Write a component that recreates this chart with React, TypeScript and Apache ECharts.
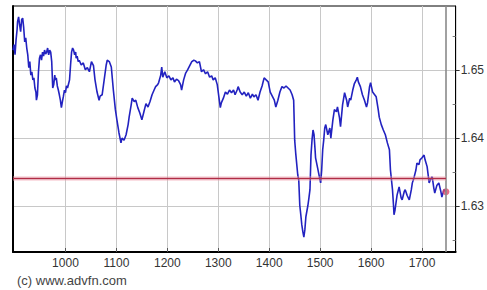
import React, { useEffect, useRef } from "react";
import * as echarts from "echarts";

const days = [
  897, 899, 901, 903, 905, 906, 908, 910, 912, 914, 916, 918, 920, 922, 924, 926, 928, 930, 932, 934,
  936, 938, 940, 942, 943, 945, 947, 949, 951, 953, 955, 957, 959, 961, 963, 965, 967, 969, 971, 973,
  975, 977, 979, 980, 982, 984, 986, 988, 990, 992, 994, 996, 998, 1000, 1002, 1004, 1006, 1008, 1010, 1012,
  1014, 1016, 1018, 1020, 1021, 1023, 1025, 1027, 1031, 1035, 1039, 1043, 1047, 1051, 1055, 1058, 1062, 1066, 1068, 1072,
  1076, 1080, 1082, 1086, 1090, 1094, 1098, 1101, 1105, 1109, 1111, 1115, 1119, 1123, 1125, 1129, 1131, 1135, 1138, 1142,
  1146, 1150, 1154, 1158, 1162, 1166, 1170, 1174, 1177, 1181, 1183, 1187, 1189, 1191, 1195, 1199, 1203, 1207, 1211, 1214,
  1218, 1222, 1226, 1228, 1232, 1236, 1240, 1244, 1248, 1252, 1255, 1259, 1263, 1267, 1271, 1275, 1279, 1283, 1287, 1290,
  1294, 1298, 1302, 1304, 1306, 1310, 1314, 1318, 1322, 1326, 1330, 1333, 1337, 1339, 1343, 1347, 1351, 1355, 1359, 1363,
  1367, 1370, 1374, 1378, 1382, 1386, 1390, 1394, 1398, 1402, 1406, 1410, 1413, 1417, 1421, 1425, 1429, 1433, 1437, 1441,
  1445, 1448, 1450, 1452, 1456, 1458, 1460, 1462, 1464, 1466, 1468, 1470, 1472, 1476, 1478, 1480, 1482, 1484, 1486, 1488,
  1490, 1491, 1495, 1499, 1501, 1503, 1505, 1507, 1509, 1511, 1515, 1519, 1521, 1525, 1528, 1532, 1534, 1538, 1540, 1544,
  1548, 1552, 1554, 1558, 1560, 1564, 1567, 1571, 1573, 1575, 1579, 1583, 1587, 1591, 1593, 1597, 1599, 1603, 1607, 1610,
  1614, 1616, 1620, 1624, 1628, 1632, 1636, 1638, 1642, 1644, 1645, 1647, 1651, 1655, 1659, 1661, 1665, 1667, 1671, 1675,
  1679, 1681, 1684, 1688, 1690, 1694, 1696, 1700, 1704, 1706, 1710, 1714, 1716, 1720, 1723, 1725, 1729, 1733, 1737, 1739,
  1743, 1747,
];

const prices = [
  1.6530, 1.6538, 1.6523, 1.6545, 1.6560, 1.6572, 1.6579, 1.6567, 1.6557, 1.6575, 1.6577, 1.6563, 1.6542, 1.6548, 1.6533, 1.6523, 1.6504, 1.6513, 1.6493, 1.6498,
  1.6486, 1.6489, 1.6474, 1.6468, 1.6456, 1.6464, 1.6498, 1.6518, 1.6523, 1.6515, 1.6527, 1.6521, 1.6530, 1.6524, 1.6527, 1.6533, 1.6523, 1.6530, 1.6527, 1.6513,
  1.6474, 1.6479, 1.6493, 1.6486, 1.6489, 1.6477, 1.6471, 1.6464, 1.6456, 1.6445, 1.6454, 1.6462, 1.6471, 1.6467, 1.6477, 1.6474, 1.6480, 1.6486, 1.6508, 1.6527,
  1.6533, 1.6530, 1.6523, 1.6527, 1.6518, 1.6521, 1.6513, 1.6515, 1.6508, 1.6511, 1.6501, 1.6504, 1.6498, 1.6513, 1.6507, 1.6486, 1.6468, 1.6456, 1.6462, 1.6464,
  1.6486, 1.6508, 1.6515, 1.6513, 1.6505, 1.6471, 1.6442, 1.6427, 1.6408, 1.6393, 1.6400, 1.6397, 1.6405, 1.6420, 1.6431, 1.6449, 1.6459, 1.6454, 1.6456, 1.6445,
  1.6437, 1.6427, 1.6439, 1.6451, 1.6446, 1.6454, 1.6464, 1.6471, 1.6476, 1.6479, 1.6482, 1.6493, 1.6505, 1.6490, 1.6498, 1.6489, 1.6492, 1.6486, 1.6489, 1.6483,
  1.6487, 1.6485, 1.6479, 1.6471, 1.6486, 1.6496, 1.6501, 1.6507, 1.6513, 1.6515, 1.6514, 1.6511, 1.6513, 1.6498, 1.6501, 1.6495, 1.6498, 1.6490, 1.6492, 1.6486,
  1.6489, 1.6479, 1.6456, 1.6445, 1.6452, 1.6459, 1.6468, 1.6465, 1.6471, 1.6467, 1.6471, 1.6464, 1.6471, 1.6476, 1.6468, 1.6464, 1.6468, 1.6462, 1.6467, 1.6459,
  1.6465, 1.6461, 1.6464, 1.6456, 1.6468, 1.6477, 1.6489, 1.6486, 1.6483, 1.6468, 1.6462, 1.6456, 1.6446, 1.6456, 1.6468, 1.6476, 1.6474, 1.6477, 1.6474, 1.6471,
  1.6464, 1.6456, 1.6397, 1.6378, 1.6346, 1.6338, 1.6301, 1.6287, 1.6272, 1.6262, 1.6254, 1.6265, 1.6284, 1.6301, 1.6312, 1.6324, 1.6375, 1.6397, 1.6412, 1.6405,
  1.6383, 1.6371, 1.6356, 1.6341, 1.6334, 1.6353, 1.6383, 1.6397, 1.6415, 1.6420, 1.6405, 1.6415, 1.6400, 1.6427, 1.6442, 1.6439, 1.6446, 1.6430, 1.6417, 1.6449,
  1.6467, 1.6456, 1.6446, 1.6459, 1.6456, 1.6471, 1.6480, 1.6486, 1.6490, 1.6483, 1.6476, 1.6464, 1.6456, 1.6446, 1.6452, 1.6476, 1.6482, 1.6468, 1.6464, 1.6461,
  1.6442, 1.6431, 1.6420, 1.6412, 1.6405, 1.6393, 1.6383, 1.6353, 1.6324, 1.6301, 1.6287, 1.6294, 1.6316, 1.6328, 1.6312, 1.6309, 1.6321, 1.6324, 1.6315, 1.6309,
  1.6324, 1.6334, 1.6341, 1.6353, 1.6363, 1.6361, 1.6368, 1.6371, 1.6375, 1.6368, 1.6358, 1.6334, 1.6338, 1.6343, 1.6327, 1.6319, 1.6330, 1.6334, 1.6321, 1.6313,
  1.6324, 1.6321,
];

const xTickValues = [1000, 1100, 1200, 1300, 1400, 1500, 1600, 1700];
const yLabelValues = [1.63, 1.64, 1.65];
const yMinorValues = [1.625, 1.635, 1.645, 1.655];
const referenceLevel = 1.6341;
const xMin = 897;
const xMax = 1766;
const yMin = 1.6232;
const yMax = 1.6595;
const copyright = "(c) www.advfn.com";

const FONT = '"Liberation Sans", Arial, sans-serif';

export default function App() {
  const ref = useRef<HTMLDivElement>(null);
  useEffect(() => {
    if (!ref.current) return;
    const chart = echarts.init(ref.current, null, { renderer: "svg" });
    const data = days.map((d, i) => [d, prices[i]]);
    const lastDay = days[days.length - 1];
    const lastPrice = prices[prices.length - 1];
    chart.setOption({
      animation: false,
      backgroundColor: "#ffffff",
      grid: {
        left: 13,
        right: 28,
        top: 6,
        bottom: 38,
        show: true,
        borderColor: "#000",
        borderWidth: 1,
        backgroundColor: "transparent",
      },
      xAxis: {
        type: "value",
        min: xMin,
        max: xMax,
        axisLine: { show: true, lineStyle: { color: "#000", width: 2 } },
        axisTick: {
          show: true,
          inside: true,
          length: 4,
          customValues: xTickValues,
          lineStyle: { color: "#555" },
        },
        axisLabel: {
          customValues: xTickValues,
          color: "#333",
          fontSize: 12,
          fontFamily: FONT,
          margin: 5,
          formatter: (v: number) => String(v),
        },
        splitLine: { show: true, lineStyle: { color: "#c8c8c8", width: 1 } },
      },
      yAxis: [
        {
          type: "value",
          position: "right",
          min: yMin,
          max: yMax,
          axisLine: { show: true, lineStyle: { color: "#000", width: 1 } },
          axisTick: {
            show: true,
            customValues: yLabelValues,
            length: 4,
            lineStyle: { color: "#333" },
          },
          axisLabel: {
            customValues: yLabelValues,
            color: "#333",
            fontSize: 12,
            fontFamily: FONT,
            margin: 5,
            formatter: (v: number) => v.toFixed(2),
          },
          splitLine: { show: true, lineStyle: { color: "#c8c8c8", width: 1 } },
        },
        {
          type: "value",
          position: "left",
          min: yMin,
          max: yMax,
          axisLine: { show: true, lineStyle: { color: "#000", width: 2 } },
          axisTick: { show: false },
          axisLabel: { show: false },
          splitLine: { show: false },
        },
        {
          type: "value",
          position: "right",
          min: yMin,
          max: yMax,
          axisLine: { show: false },
          axisTick: {
            show: true,
            inside: true,
            length: 3,
            customValues: yMinorValues,
            lineStyle: { color: "#777" },
          },
          axisLabel: { show: false },
          splitLine: { show: false },
        },
      ],
      series: [
        {
          type: "line",
          data,
          yAxisIndex: 0,
          symbol: "none",
          lineStyle: { color: "#2222c0", width: 1.6 },
          z: 3,
          markLine: {
            silent: true,
            symbol: ["none", "none"],
            label: { show: false },
            data: [
              { xAxis: lastDay, lineStyle: { color: "#8a8a8a", width: 1.6, type: "solid" } },
              [
                { coord: [xMin, referenceLevel], lineStyle: { color: "rgba(240,160,175,0.35)", width: 5, type: "solid" } },
                { coord: [lastDay, referenceLevel] },
              ],
              [
                { coord: [xMin, referenceLevel], lineStyle: { color: "#b02c46", width: 1.4, type: "solid" } },
                { coord: [lastDay, referenceLevel] },
              ],
            ],
          },
        },
        {
          type: "scatter",
          yAxisIndex: 0,
          data: [[lastDay, lastPrice]],
          symbolSize: 7,
          itemStyle: { color: "#e04a66" },
          z: 4,
        },
      ],
      graphic: [
        {
          type: "text",
          left: 17,
          top: 274,
          style: {
            text: copyright,
            fill: "#444",
            fontSize: 13,
            fontFamily: FONT,
          },
        },
      ],
    });
    return () => chart.dispose();
  }, []);
  return (
    <div
      ref={ref}
      style={{ position: "fixed", left: 0, top: 0, width: 487, height: 290, background: "#fff" }}
    />
  );
}
